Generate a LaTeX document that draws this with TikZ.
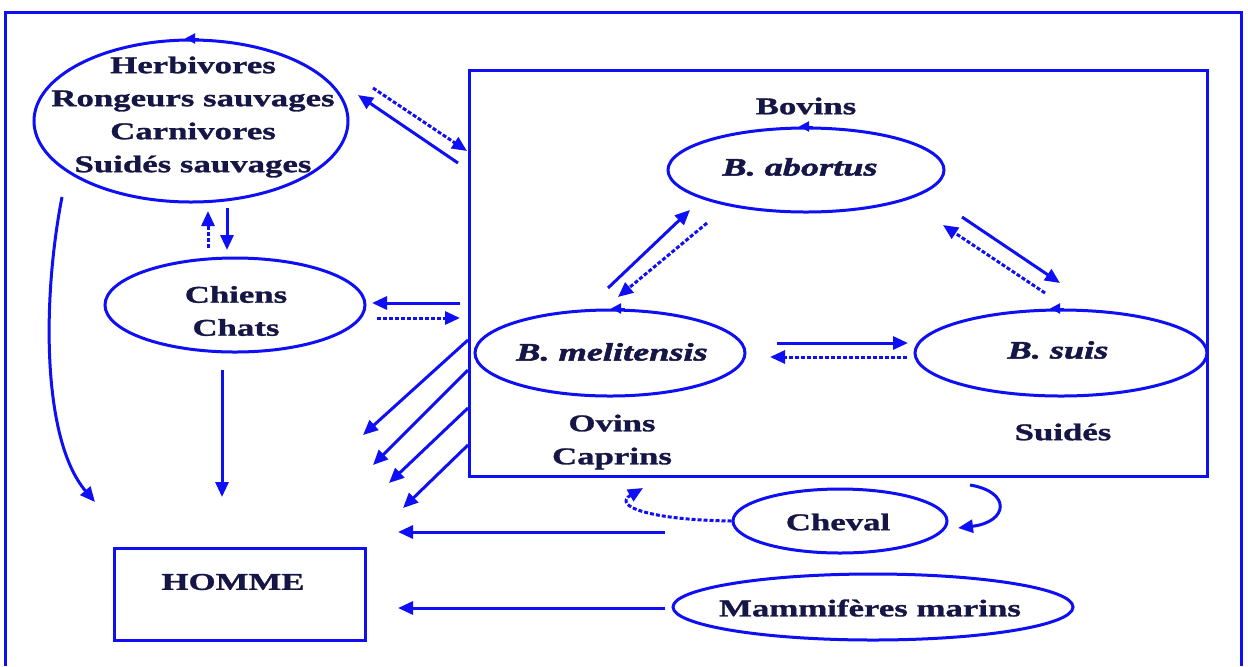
\documentclass[tikz,border=0pt]{standalone}
\usepackage{fontspec}
\setmainfont[FakeStretch=1.45,BoldFeatures={FakeBold=1.2},BoldItalicFeatures={FakeBold=2}]{Liberation Serif}
\usetikzlibrary{shapes.geometric,arrows.meta,calc}
\definecolor{bl}{RGB}{15,15,245}
\definecolor{tx}{RGB}{22,22,70}
\begin{document}
\begin{tikzpicture}[x=0.5pt,y=-0.5pt,
  ell/.style={ellipse,draw=bl,line width=1.5pt,inner sep=0pt},
  boxx/.style={rectangle,draw=bl,line width=1.5pt,inner sep=0pt},
  txt/.style={text=tx,font=\fontsize{12}{16.5}\selectfont\bfseries,align=center,inner sep=0pt},
  itx/.style={txt,font=\fontsize{12.5}{16.5}\selectfont\bfseries\itshape},
  arr/.style={draw=bl,line width=1.5pt,-{Triangle[length=7.5pt,width=6.5pt]}},
  darr/.style={arr,dash pattern=on 2pt off 1pt},
  tick/.style={draw=bl,line width=1pt,-{Triangle[length=5pt,width=5pt]}}]
\useasboundingbox (0,0) rectangle (1248,666);
\fill[white] (0,0) rectangle (1248,666);
% outer frame
\draw[bl,line width=1.5pt] (5,666) -- (5,12) -- (1241,12) -- (1241,666);

% nodes
\node[ell,minimum width=157pt,minimum height=81pt] (wild) at (191,121) {};
\node[txt] (wildt) at (193,117) {Herbivores\\Rongeurs sauvages\\Carnivores\\Suidés sauvages};
\node[ell,minimum width=130pt,minimum height=47pt] (dog) at (235,305) {};
\node[txt] (dogt) at (236,311) {Chiens\\Chats};
\node[boxx,minimum width=125.5pt,minimum height=46pt] (homme) at (239.5,594) {};
\node[txt] (hommet) at (233,582) {HOMME};
\node[boxx,minimum width=369pt,minimum height=203pt] (box) at (838,273) {};
\node[txt] (bov) at (806,106) {Bovins};
\node[ell,minimum width=138pt,minimum height=42pt] (abo) at (806,170) {};
\node[itx] (abot) at (800,167) {B. abortus};
\node[ell,minimum width=135pt,minimum height=43pt] (mel) at (610,353) {};
\node[itx] (melt) at (612,352) {B. melitensis};
\node[txt] (ovi) at (612,442) {Ovins\\Caprins};
\node[ell,minimum width=146pt,minimum height=43pt] (sui) at (1061,353) {};
\node[itx] (suit) at (1058,350) {B. suis};
\node[txt] (suid) at (1063,432) {Suidés};
\node[ell,minimum width=107pt,minimum height=32pt] (che) at (840,521) {};
\node[txt] (chet) at (838,522) {Cheval};
\node[ell,minimum width=200pt,minimum height=33pt] (mam) at (873,607) {};
\node[txt] (mamt) at (870,608) {Mammifères marins};

% small arrowheads on top of ellipses
\draw[tick] ($(wild.north)+(8,0)$) -- ($(wild.north)+(-6,0)$);
\draw[tick] ($(abo.north)+(7,0)$) -- ($(abo.north)+(-7,0)$);
\draw[tick] ($(mel.north)+(15,0)$) -- ($(mel.north)+(1,0)$);
\draw[tick] ($(sui.north)+(3,0)$) -- ($(sui.north)+(-11,0)$);

% coordinates for connector ends
\coordinate (a1s) at (458,163); \coordinate (a1e) at (358,95);
\coordinate (a2s) at (373,88);  \coordinate (a2e) at (467,151);
\coordinate (a3s) at (208,248); \coordinate (a3e) at (208,211);
\coordinate (a4s) at (227,208); \coordinate (a4e) at (227,250);
\coordinate (a5s) at (460,303); \coordinate (a5e) at (372,303);
\coordinate (a6s) at (377,318); \coordinate (a6e) at (460,318);
\coordinate (a7s) at (222,370); \coordinate (a7e) at (222,497);
\coordinate (a8s) at (62,197);  \coordinate (a8e) at (95,502);
\coordinate (d1s) at (468,340); \coordinate (d1e) at (363,435);
\coordinate (d2s) at (468,370); \coordinate (d2e) at (373,465);
\coordinate (d3s) at (468,408); \coordinate (d3e) at (389,483);
\coordinate (d4s) at (468,445); \coordinate (d4e) at (403,508);
\coordinate (c1s) at (665,532); \coordinate (c1e) at (398,532);
\coordinate (c2s) at (665,608); \coordinate (c2e) at (398,608);
\coordinate (c3e) at (643,488);
\coordinate (c4s) at (970,485); \coordinate (c4e) at (958,528);
\coordinate (t1s) at (608,288); \coordinate (t1e) at (690,210);
\coordinate (t2s) at (707,223); \coordinate (t2e) at (618,297);
\coordinate (t3s) at (962,217); \coordinate (t3e) at (1060,283);
\coordinate (t4s) at (1045,293); \coordinate (t4e) at (943,225);
\coordinate (t5s) at (777,343); \coordinate (t5e) at (908,343);
\coordinate (t6s) at (907,357); \coordinate (t6e) at (770,357);

% connectors
\draw[arr] (a1s) -- (a1e);
\draw[darr] (a2s) -- (a2e);
\draw[darr] (a3s) -- (a3e);
\draw[arr] (a4s) -- (a4e);
\draw[arr] (a5s) -- (a5e);
\draw[darr] (a6s) -- (a6e);
\draw[arr] (a7s) -- (a7e);
\draw[arr] (a8s) .. controls (42,300) and (42,440) .. (a8e);
\draw[arr] (d1s) -- (d1e);
\draw[arr] (d2s) -- (d2e);
\draw[arr] (d3s) -- (d3e);
\draw[arr] (d4s) -- (d4e);
\draw[arr] (c1s) -- (c1e);
\draw[arr] (c2s) -- (c2e);
\draw[darr] (che.west) .. controls (650,520) and (612,506) .. (c3e);
\draw[arr] (c4s) .. controls (1012,492) and (1008,522) .. (c4e);
\draw[arr] (t1s) -- (t1e);
\draw[darr] (t2s) -- (t2e);
\draw[arr] (t3s) -- (t3e);
\draw[darr] (t4s) -- (t4e);
\draw[arr] (t5s) -- (t5e);
\draw[darr] (t6s) -- (t6e);
\end{tikzpicture}
\end{document}
